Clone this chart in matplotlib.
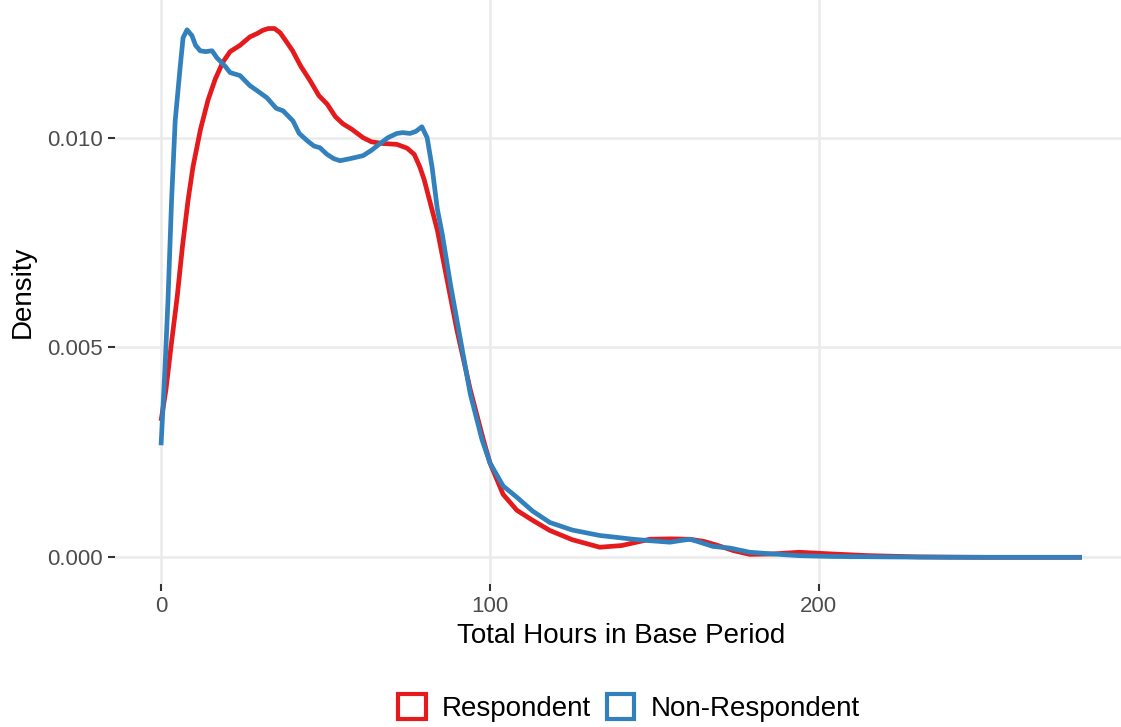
import matplotlib
matplotlib.use("Agg")
import matplotlib.pyplot as plt
from matplotlib.patches import Patch

plt.rcParams['font.family'] = ['Liberation Sans', 'DejaVu Sans']

# Kernel density estimates of total hours, by survey response group
respondent_hours = [0, 1.5, 3, 4.9, 6.5, 8.2, 9.7, 12, 14.3, 16.5, 18.8, 21, 24, 27,
                    29.2, 31, 32.6, 34.5, 36.2, 38, 40, 42.5, 45.3, 48, 50.5, 53, 55.3,
                    58, 61.4, 64, 67.5, 71.7, 74.8, 77, 78.7, 80, 82, 84, 87, 90, 94, 98,
                    100, 104, 108.2, 113, 118.2, 125, 133.4, 140, 148.6, 155, 160.8, 165,
                    169, 174, 179, 186, 194, 204, 215, 230, 250, 280]
respondent_density = [0.00325, 0.0040, 0.0050, 0.0062, 0.0074, 0.0085, 0.0093, 0.0102,
                      0.0109, 0.0114, 0.0118, 0.01205, 0.0122, 0.0124, 0.01248, 0.01256,
                      0.0126, 0.0126, 0.0125, 0.0123, 0.01207, 0.0117, 0.01136, 0.0110,
                      0.0108, 0.0105, 0.01033, 0.0102, 0.0100, 0.0099, 0.00986, 0.00984,
                      0.00975, 0.0096, 0.0093, 0.0090, 0.0084, 0.0078, 0.0066, 0.0054,
                      0.0040, 0.0028, 0.00225, 0.0015, 0.00112, 0.00088, 0.00064, 0.00042,
                      0.00024, 0.00028, 0.00043, 0.00044, 0.00043, 0.00038, 0.00029,
                      0.00016, 0.00007, 0.00008, 0.00012, 0.00008, 0.00004, 0.00001,
                      0.0, 0.0]

nonrespondent_hours = [0, 1.2, 2.1, 3.2, 4.3, 5.8, 6.7, 7.9, 9.4, 10.5, 11.9, 13.5, 15.5,
                       17, 17.9, 19.5, 21, 24, 27, 29.2, 32.2, 35, 37.1, 40.1, 42, 44.4,
                       46.5, 48.3, 50.5, 52.5, 54.4, 57.5, 61.4, 64, 66.6, 69, 71.7, 73.5,
                       75.7, 77.5, 79.3, 80.9, 82.4, 84, 85.5, 88, 91, 94, 97.6, 100, 104,
                       108.2, 113, 118.2, 125, 133.4, 138, 143.5, 148, 154.7, 158, 160.8,
                       163, 167.8, 173, 179, 186, 194, 204, 220, 240, 280]
nonrespondent_density = [0.00267, 0.0045, 0.0061, 0.0085, 0.0104, 0.01167, 0.01238,
                         0.01257, 0.01243, 0.0122, 0.01207, 0.01205, 0.01207, 0.0119,
                         0.01183, 0.0117, 0.01155, 0.01148, 0.01124, 0.01112, 0.01095,
                         0.0107, 0.01064, 0.0104, 0.0101, 0.00993, 0.0098, 0.00976, 0.0096,
                         0.0095, 0.00945, 0.0095, 0.00957, 0.0097, 0.00986, 0.0100, 0.0101,
                         0.01012, 0.0101, 0.01015, 0.01026, 0.0100, 0.0093, 0.0083, 0.0077,
                         0.0065, 0.0052, 0.0039, 0.0028, 0.00225, 0.0017, 0.00143, 0.0011,
                         0.00083, 0.00065, 0.00052, 0.00048, 0.00043, 0.0004, 0.00036,
                         0.0004, 0.00043, 0.00038, 0.00026, 0.00022, 0.00012, 0.00008,
                         0.00004, 0.00002, 0.00001, 0.0, 0.0]

group_labels = ["Respondent", "Non-Respondent"]
group_colors = ["#E41A1C", "#3281BD"]

x_ticks = [0, 100, 200]
y_ticks = [0.000, 0.005, 0.010]
y_tick_labels = ["0.000", "0.005", "0.010"]

fig = plt.figure(figsize=(11.21, 7.27), dpi=100)
ax = fig.add_axes([115 / 1121, 143 / 727, 1013 / 1121, 584 / 727])

ax.plot(respondent_hours, respondent_density, color=group_colors[0], lw=3.4,
        solid_capstyle='butt', solid_joinstyle='round', zorder=3)
ax.plot(nonrespondent_hours, nonrespondent_density, color=group_colors[1], lw=3.4,
        solid_capstyle='butt', solid_joinstyle='round', zorder=4)

ax.set_xlim(-14, 294)
ax.set_ylim(-0.000636, 0.01328)
ax.set_xticks(x_ticks)
ax.set_yticks(y_ticks)
ax.set_yticklabels(y_tick_labels)

for side in ax.spines.values():
    side.set_visible(False)
ax.grid(True, color="#EBEBEB", lw=1.8, zorder=0)
ax.set_axisbelow(True)
ax.tick_params(axis='both', length=5, width=1.5, color="#333333",
               labelcolor="#4D4D4D", labelsize=16, pad=4)

ax.set_xlabel("Total Hours in Base Period", fontsize=20, color="black", va='center')
ax.xaxis.set_label_coords(0.5, (584 - 636) / 584)
ax.set_ylabel("Density", fontsize=20, color="black", va='center')
ax.yaxis.set_label_coords((23 - 115) / 1013, 0.5)

handles = [Patch(facecolor='white', edgecolor=c, lw=3) for c in group_colors]
fig.legend(handles, group_labels, loc='center', bbox_to_anchor=(629 / 1121, 1 - 708 / 727),
           ncol=2, frameon=False, fontsize=20, handlelength=1.0, handleheight=1.0,
           handletextpad=0.6, columnspacing=0.55, borderaxespad=0)

fig.savefig("out.png", dpi=100)
